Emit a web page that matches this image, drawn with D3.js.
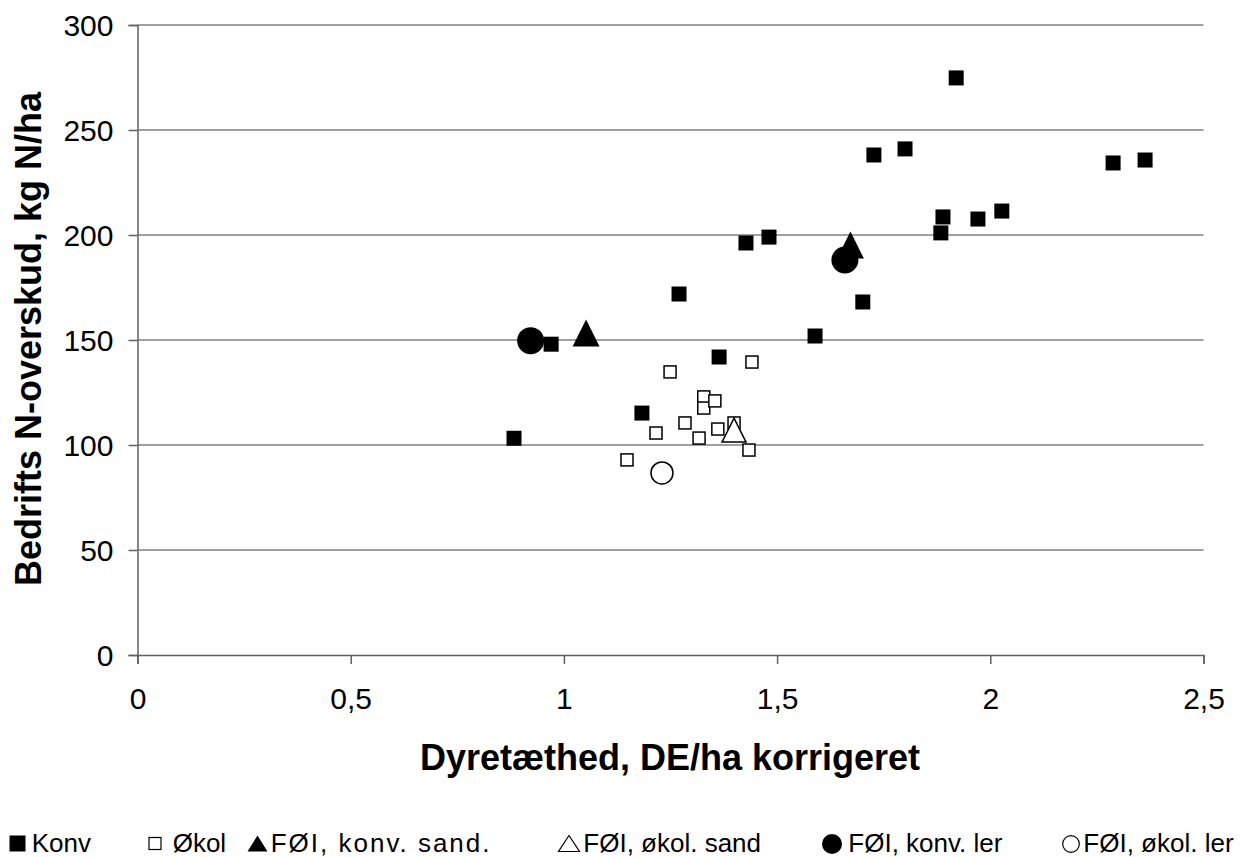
<!DOCTYPE html>
<html><head><meta charset="utf-8">
<script src="https://cdn.jsdelivr.net/npm/d3@7"></script>
<style>body{margin:0;background:#fff}svg{display:block}text{font-family:"Liberation Sans",Arial,sans-serif;fill:#000}</style>
</head><body>
<svg id="c" width="1251" height="857"></svg>
<script>
// ---- data ----
const konvX = [0.883,0.970,1.183,1.270,1.364,1.427,1.481,1.589,1.701,1.727,1.800,1.884,1.889,1.920,1.971,2.027,2.288,2.363];
const konvY = [103.2,148.0,115.2,171.9,141.9,196.2,199.0,151.9,168.1,238.1,241.0,201.0,208.6,274.8,207.6,211.4,234.3,235.7];
const okolX = [1.148,1.216,1.249,1.284,1.317,1.328,1.328,1.354,1.361,1.399,1.434,1.441];
const okolY = [92.9,105.7,134.8,110.5,103.3,122.9,117.6,121.0,107.6,110.5,97.6,139.5];
const foiKonvSandX = [1.052,1.672];
const foiKonvSandY = [153.3,195.2];
const foiOkolSandX = [1.399];
const foiOkolSandY = [107.1];
const foiKonvLerX = [0.922,1.659];
const foiKonvLerY = [149.7,188.1];
const foiOkolLerX = [1.230];
const foiOkolLerY = [86.7];
const xTicks = [0,0.5,1,1.5,2,2.5];
const yTicks = [0,50,100,150,200,250,300];
const seriesNames = ["Konv","Økol","FØI, konv. sand.","FØI, økol. sand","FØI, konv. ler","FØI, økol. ler"];
const xTitle = "Dyretæthed, DE/ha korrigeret";
const yTitle = "Bedrifts N-overskud, kg N/ha";

// ---- layout ----
const svg = d3.select("#c");
const x = d3.scaleLinear().domain([0,2.5]).range([137.5,1203.5]);
const y = d3.scaleLinear().domain([0,300]).range([655,25]);
const fmt = d => String(d).replace(".", ",");

// gridlines
svg.append("g").selectAll("line").data(yTicks.filter(d=>d>0)).join("line")
  .attr("x1", x(0)).attr("x2", x(2.5)).attr("y1", d=>y(d)).attr("y2", d=>y(d))
  .attr("stroke","#808080").attr("stroke-width",1.5);

// axes
const yAxis = svg.append("g").attr("transform",`translate(${x(0)},0)`)
  .call(d3.axisLeft(y).tickValues(yTicks).tickSize(9).tickPadding(15).tickFormat(d=>d));
const xAxis = svg.append("g").attr("transform",`translate(0,${y(0)})`)
  .call(d3.axisBottom(x).tickValues(xTicks).tickSize(9).tickPadding(24).tickFormat(fmt));
[yAxis,xAxis].forEach(a=>{
  a.select(".domain").attr("stroke","#606060").attr("stroke-width",1.5);
  a.selectAll(".tick line").attr("stroke","#606060").attr("stroke-width",1.5);
  a.selectAll(".tick text").style("font-size","30px").attr("fill","#000");
});
yAxis.selectAll(".tick text").attr("dy","0.36em");

// titles
svg.append("text").attr("x",670).attr("y",770).attr("text-anchor","middle")
  .style("font-size","36px").style("font-weight","bold").text(xTitle);
svg.append("text").attr("transform","translate(41,339) rotate(-90)").attr("text-anchor","middle")
  .style("font-size","36px").style("font-weight","bold").text(yTitle);

// marker helpers
function tri(s){ const h=s/2; return `M0,${-h}L${h},${h}L${-h},${h}Z`; }
const g = svg.append("g");
const zip = (xs,ys)=>xs.map((v,i)=>[v,ys[i]]);

g.selectAll(".konv").data(zip(konvX,konvY)).join("rect")
  .attr("x",d=>x(d[0])-7.5).attr("y",d=>y(d[1])-7.5).attr("width",15).attr("height",15).attr("fill","#000");
g.selectAll(".okol").data(zip(okolX,okolY)).join("rect")
  .attr("x",d=>x(d[0])-6).attr("y",d=>y(d[1])-6).attr("width",12).attr("height",12)
  .attr("fill","#fff").attr("stroke","#000").attr("stroke-width",1.5);
g.selectAll(".fks").data(zip(foiKonvSandX,foiKonvSandY)).join("path")
  .attr("transform",d=>`translate(${x(d[0])},${y(d[1])})`).attr("d",tri(27)).attr("fill","#000");
g.selectAll(".fos").data(zip(foiOkolSandX,foiOkolSandY)).join("path")
  .attr("transform",d=>`translate(${x(d[0])},${y(d[1])})`).attr("d",tri(24)).attr("fill","#fff")
  .attr("stroke","#000").attr("stroke-width",1.5);
g.selectAll(".fkl").data(zip(foiKonvLerX,foiKonvLerY)).join("circle")
  .attr("cx",d=>x(d[0])).attr("cy",d=>y(d[1])).attr("r",13.5).attr("fill","#000");
g.selectAll(".fol").data(zip(foiOkolLerX,foiOkolLerY)).join("circle")
  .attr("cx",d=>x(d[0])).attr("cy",d=>y(d[1])).attr("r",11).attr("fill","#fff")
  .attr("stroke","#000").attr("stroke-width",1.5);

// legend
const legX = [17.5,155,257.5,569,832,1071];
const legTextX = [31.7,172.7,270.7,583.3,848.3,1083.3];
const legY = 843.5;
const lg = svg.append("g");
seriesNames.forEach((n,i)=>{
  const cx=legX[i];
  if(i===0) lg.append("rect").attr("x",cx-8).attr("y",legY-8).attr("width",16).attr("height",16).attr("fill","#000");
  if(i===1) lg.append("rect").attr("x",cx-6).attr("y",legY-6).attr("width",12).attr("height",12).attr("fill","#fff").attr("stroke","#000").attr("stroke-width",1.2);
  if(i===2) lg.append("path").attr("transform",`translate(${cx},${legY})`).attr("d",`M0,-8L10,8L-10,8Z`).attr("fill","#000");
  if(i===3) lg.append("path").attr("transform",`translate(${cx},${legY})`).attr("d",`M0,-8L10.5,8L-10.5,8Z`).attr("fill","#fff").attr("stroke","#000").attr("stroke-width",1.2);
  if(i===4) lg.append("circle").attr("cx",cx).attr("cy",legY+0.5).attr("r",10).attr("fill","#000");
  if(i===5) lg.append("circle").attr("cx",cx).attr("cy",legY+0.5).attr("r",8.3).attr("fill","#fff").attr("stroke","#000").attr("stroke-width",1.2);
  const t = lg.append("text").attr("x",legTextX[i]).attr("y",851.5).style("font-size","26px").text(n);
  if(i===2) t.style("letter-spacing","2px");
});
</script>
</body></html>
